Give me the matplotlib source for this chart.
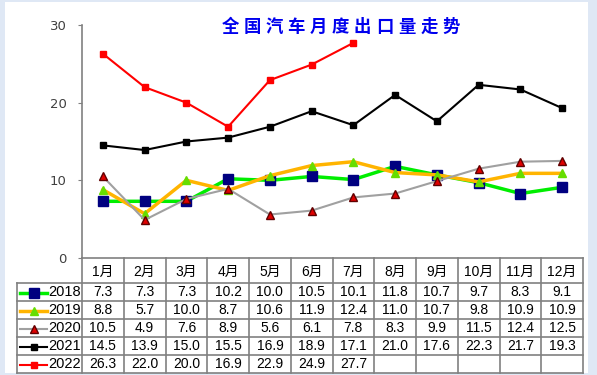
import numpy as np
import matplotlib.pyplot as plt
from matplotlib.patches import Rectangle

# Data
months = ["1月", "2月", "3月", "4月", "5月", "6月", "7月", "8月", "9月", "10月", "11月", "12月"]
years = ["2018", "2019", "2020", "2021", "2022"]
v2018 = [7.3, 7.3, 7.3, 10.2, 10.0, 10.5, 10.1, 11.8, 10.7, 9.7, 8.3, 9.1]
v2019 = [8.8, 5.7, 10.0, 8.7, 10.6, 11.9, 12.4, 11.0, 10.7, 9.8, 10.9, 10.9]
v2020 = [10.5, 4.9, 7.6, 8.9, 5.6, 6.1, 7.8, 8.3, 9.9, 11.5, 12.4, 12.5]
v2021 = [14.5, 13.9, 15.0, 15.5, 16.9, 18.9, 17.1, 21.0, 17.6, 22.3, 21.7, 19.3]
v2022 = [26.3, 22.0, 20.0, 16.9, 22.9, 24.9, 27.7]
series = [v2018, v2019, v2020, v2021, v2022]
title = "全国汽车月度出口量走势"

# Styles per year
styles = [
    dict(color="#00ee00", lw=2.5, marker="s", ms=6.5, mfc="#000080", mec="#000080"),
    dict(color="#ffb400", lw=2.5, marker="^", ms=5.5, mfc="#66dd00", mec="#66dd00"),
    dict(color="#a0a0a0", lw=1.5, marker="^", ms=6, mfc="#e00000", mec="#600000"),
    dict(color="#000000", lw=1.5, marker="s", ms=5, mfc="#000000", mec="#000000"),
    dict(color="#ff0000", lw=1.5, marker="s", ms=5, mfc="#ff0000", mec="#ff0000"),
]

W, H = 597, 375
fig = plt.figure(figsize=(W / 100, H / 100), dpi=100)
fig.patch.set_facecolor("#dfe8f5")
fig.patches.append(Rectangle((5 / W, 2 / H), 583 / W, 371 / H, transform=fig.transFigure,
                             facecolor="white", edgecolor="none", zorder=-10))

# Main chart axes
ax_l, ax_r, ax_t, ax_b = 82, 583, 25, 258
ax = fig.add_axes([ax_l / W, (H - ax_b) / H, (ax_r - ax_l) / W, (ax_b - ax_t) / H])
ax.set_facecolor("none")
x = np.arange(len(months))
for vals, st in zip(series, styles):
    ax.plot(x[:len(vals)], vals, **st)
ax.set_xlim(-0.5, 11.5)
ax.set_ylim(0, 30)
ax.set_yticks([0, 10, 20, 30])
ax.set_xticks([])
for s in ["top", "right"]:
    ax.spines[s].set_visible(False)
ax.spines["left"].set_color("#808080")
ax.spines["bottom"].set_color("#808080")
ax.spines["left"].set_linewidth(1.2)
ax.spines["bottom"].set_linewidth(1.2)
ax.tick_params(axis="y", length=3, color="#808080", labelsize=9.5, labelcolor="#404040", pad=8)

# Title, spaced characters
for i, ch in enumerate(title):
    fig.text((230 + i * 22.1) / W, (H - 27) / H, ch, ha="center", va="center",
             fontsize=12.5, fontweight="bold", color="#0000ee", family="Noto Sans CJK SC")

# Data table
tb_l, tb_b = 17, 372
cw = (ax_r - ax_l) / 12.0
xl = -0.5 - (ax_l - tb_l) / cw
tax = fig.add_axes([tb_l / W, (H - tb_b) / H, (ax_r - tb_l) / W, (tb_b - ax_b) / H])
tax.set_xlim(xl, 11.5)
tax.set_ylim(tb_b - ax_b, 0)
tax.axis("off")
hdr = 25
rh = 18
gc = "#808080"
font = ["Liberation Sans", "Noto Sans CJK SC"]

tax.plot([xl, 11.5], [hdr, hdr], color=gc, lw=1.2, clip_on=False)
for r in range(1, 6):
    tax.plot([xl, 11.5], [hdr + r * rh, hdr + r * rh], color=gc, lw=1.2, clip_on=False)
for c in range(13):
    tax.plot([c - 0.5, c - 0.5], [0, hdr + 5 * rh], color=gc, lw=1.2, clip_on=False)
tax.plot([xl, xl], [hdr, hdr + 5 * rh], color=gc, lw=1.2, clip_on=False)

for i, m in enumerate(months):
    tax.text(i, hdr / 2 + 1, m, ha="center", va="center", fontsize=10, family=font)

for r, (yr, vals, st) in enumerate(zip(years, series, styles)):
    yc = hdr + r * rh + rh / 2 + 0.5
    x0, x1 = xl + 3 / cw, xl + 30 / cw
    tax.plot([x0, x1], [yc, yc], color=st["color"], lw=st["lw"], clip_on=False)
    tax.plot([(x0 + x1) / 2], [yc], marker=st["marker"], ms=st["ms"],
             mfc=st["mfc"], mec=st["mec"], ls="none", clip_on=False)
    tax.text(xl + 31 / cw, yc, yr, ha="left", va="center", fontsize=10.5, family=font)
    for i, v in enumerate(vals):
        tax.text(i, yc, f"{v:.1f}", ha="center", va="center", fontsize=10, family=font)

fig.savefig("out.png", dpi=100, facecolor=fig.get_facecolor())
